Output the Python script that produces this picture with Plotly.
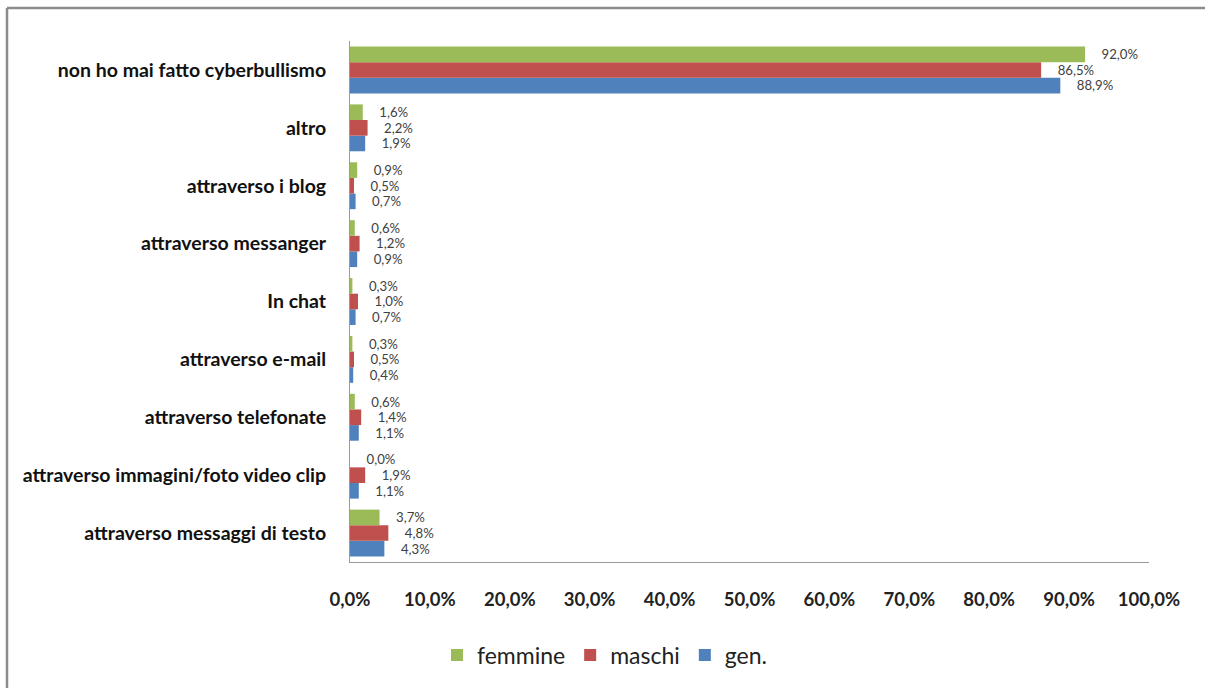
import plotly.graph_objects as go

categories = [
    "attraverso messaggi di testo",
    "attraverso immagini/foto video clip",
    "attraverso telefonate",
    "attraverso e-mail",
    "In chat",
    "attraverso messanger",
    "attraverso i blog",
    "altro",
    "non ho mai fatto cyberbullismo",
]
femmine = [3.7, 0.0, 0.6, 0.3, 0.3, 0.6, 0.9, 1.6, 92.0]
maschi = [4.8, 1.9, 1.4, 0.5, 1.0, 1.2, 0.5, 2.2, 86.5]
gen = [4.3, 1.1, 1.1, 0.4, 0.7, 0.9, 0.7, 1.9, 88.9]
x_ticks = [0, 10, 20, 30, 40, 50, 60, 70, 80, 90, 100]

FONT = "Lato, 'Open Sans', sans-serif"
PAD = "\u00a0\u00a0\u00a0\u00a0"

fig = go.Figure()
series = [("gen.", gen, "#4F81BD"), ("maschi", maschi, "#C0504D"), ("femmine", femmine, "#9BBB59")]
for name, vals, col in series:
    fig.add_trace(go.Bar(
        y=categories, x=vals, name=name, orientation="h",
        marker=dict(color=col, line=dict(width=0)),
        text=vals, texttemplate=PAD + "%{x:.1f}%", textposition="outside",
        textfont=dict(size=13.5, color="#404040", family=FONT),
        cliponaxis=False,
    ))

W, H = 1205, 688
ml, mr, mt, mb = 350, 56, 41, 126
pw, ph = W - ml - mr, H - mt - mb

fig.update_layout(
    width=W, height=H,
    margin=dict(l=ml, r=mr, t=mt, b=mb),
    barmode="group", bargap=0.19, bargroupgap=0,
    separators=",.",
    plot_bgcolor="white", paper_bgcolor="white",
    font=dict(family=FONT, color="#222222"),
    legend=dict(
        orientation="h", traceorder="reversed",
        x=(605 - ml) / pw, xanchor="center",
        y=-(655 - (mt + ph)) / ph, yanchor="middle",
        font=dict(size=23, color="#222222", family=FONT),
    ),
    xaxis=dict(
        range=[0, 100], tickvals=x_ticks,
        ticktext=[f"{v:.1f}%".replace(".", ",") for v in x_ticks],
        showgrid=False, zeroline=False,
        showline=True, linecolor="#9a9a9a", linewidth=1,
        ticks="", ticklabelstandoff=21,
        tickfont=dict(size=18.5, color="#222222", family=FONT, weight="bold"),
    ),
    yaxis=dict(
        showgrid=False, zeroline=False,
        showline=True, linecolor="#9a9a9a", linewidth=1,
        ticks="", ticklabelstandoff=19,
        tickfont=dict(size=19.5, color="#111111", family=FONT, weight="bold"),
    ),
    shapes=[
        dict(type="line", xref="paper", yref="paper",
             x0=(7 - ml) / pw, x1=(7 - ml) / pw, y0=1 + (mt - 8) / ph, y1=-0.4,
             line=dict(color="#8c8c8c", width=2.5)),
        dict(type="line", xref="paper", yref="paper",
             x0=(7 - ml) / pw, x1=1.2, y0=1 + (mt - 8) / ph, y1=1 + (mt - 8) / ph,
             line=dict(color="#8c8c8c", width=2.5)),
    ],
)

fig.write_html("out.html", config={"displayModeBar": False},
               post_script="document.body.style.margin='0';")
